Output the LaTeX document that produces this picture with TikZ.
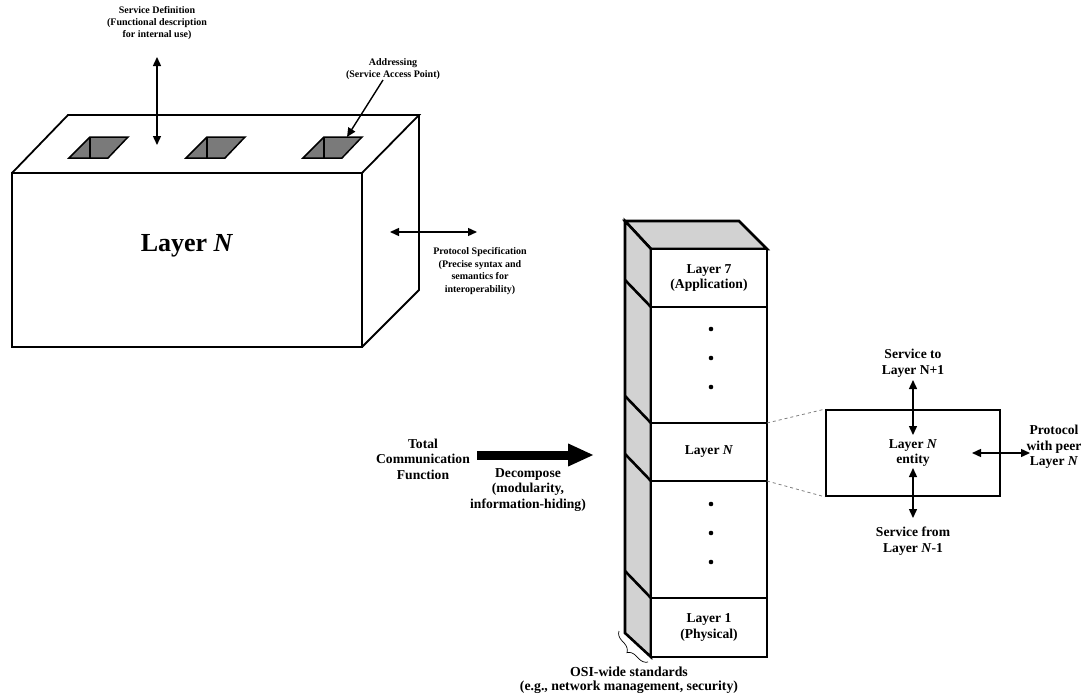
\documentclass[tikz,border=0pt]{standalone}
\usepackage{fontspec}
\setmainfont{Liberation Serif}
\usetikzlibrary{arrows.meta,positioning,decorations.pathreplacing}
\tikzset{
  boxedge/.style={draw=black, line width=1.8pt, line join=miter},
  slotbox/.style={draw=black, line width=1.5pt, fill=black!52, line join=miter},
  layerbox/.style={draw=black, line width=2.6pt, rectangle, minimum width=116pt, outer sep=0pt, inner sep=0pt, fill=white, align=center, font=\bfseries\fontsize{13.6}{15.5}\selectfont},
  sideface/.style={draw=black, line width=2.6pt, fill=gray!35, line join=miter},
  twoway/.style={<->, line width=1.4pt, >={Triangle[length=9pt,width=8pt]}},
  oneway/.style={->, line width=1.4pt, >={Triangle[length=9pt,width=8pt]}},
  fatarrow/.style={->, line width=9pt, >={Triangle[length=26pt,width=21pt]}},
  smalllabel/.style={align=center, inner sep=0pt, font=\bfseries\fontsize{10}{12}\selectfont},
  biglabel/.style={align=center, inner sep=0pt, font=\bfseries\fontsize{13.6}{15.5}\selectfont},
  zoomline/.style={draw=gray, dashed, line width=0.8pt}
}

\begin{document}
\begin{tikzpicture}[x=1pt, y=-1pt]
  \useasboundingbox (0,0) rectangle (1088,696);

  % layer N block
  \draw[boxedge] (12,173) rectangle (362,347);
  \draw[boxedge] (12,173) -- (68,115) -- (419,115) -- (362,173);
  \draw[boxedge] (419,115) -- (419,290) -- (362,347);
  \foreach \dx in {0,117,234} {
    \draw[slotbox, shift={(\dx,0)}] (69,158) -- (90,137) -- (128,137) -- (108,158) -- cycle;
    \draw[line width=1.5pt, shift={(\dx,0)}] (90,137) -- (90,158);
  }
  \node[font=\bfseries\fontsize{26}{30}\selectfont] (layern) at (187,246) {Layer \textit{N}};

  \node[smalllabel] (servdef) at (157,23) {Service Definition\\(Functional description\\for internal use)};
  \coordinate (sdtop) at (157,57);
  \coordinate (sdbot) at (157,145);
  \draw[twoway] (sdtop) -- (sdbot);

  \node[smalllabel] (addr) at (393,69) {Addressing\\(Service Access Point)};
  \coordinate (addrstart) at (383,80);
  \coordinate (sap) at (347,137);
  \draw[oneway] (addrstart) -- (sap);

  \coordinate (psleft) at (390,232);
  \coordinate (psright) at (477,232);
  \draw[twoway] (psleft) -- (psright);
  \node[smalllabel, font=\bfseries\fontsize{10}{12.7}\selectfont] (protspec) at (480,271) {Protocol Specification\\(Precise syntax and\\semantics for\\interoperability)};

  % OSI stack
  \draw[sideface] (625,221) -- (739,221) -- (767,249) -- (651,249) -- cycle;
  \draw[sideface] (625,221) -- (651,249) -- (651,657) -- (625,633) -- cycle;
  \node[layerbox, minimum height=58pt] (l7) at (709,278) {Layer 7\\(Application)};
  \node[layerbox, minimum height=116pt, below=0pt of l7] (upper) {};
  \node[layerbox, minimum height=58pt, below=0pt of upper] (ln) {Layer \textit{N}};
  \node[layerbox, minimum height=117pt, below=0pt of ln] (lower) {};
  \node[layerbox, minimum height=59pt, below=0pt of lower] (l1) {Layer 1\\(Physical)};
  \foreach \y in {307,423,481,598}
    \draw[line width=2.6pt] (625,\y-27) -- (651,\y);
  \foreach \y in {329,358,387,504,533,562}
    \fill (711,\y) circle (2.3pt);
  \draw[line width=0.7pt, decorate, decoration={brace, amplitude=9pt}] (648,662) -- (619,631);
  \node[biglabel, font=\bfseries\fontsize{13.8}{14.5}\selectfont] (osiwide) at (629,680) {OSI-wide standards\\(e.g., network management, security)};

  % decompose
  \node[biglabel] (total) at (423,459) {Total\\Communication\\Function};
  \coordinate (fatstart) at (477,455);
  \coordinate (fatend) at (594,455);
  \draw[fatarrow] (fatstart) -- (fatend);
  \node[biglabel] (decomp) at (528,490) {Decompose\\(modularity,\\information-hiding)};

  % layer N entity
  \node[draw=black, line width=1.8pt, minimum width=174pt, minimum height=86pt, align=center, font=\bfseries\fontsize{13.6}{15}\selectfont] (entity) at (913,453) {Layer \textit{N}\\entity};
  \draw[zoomline] (ln.north east) -- (entity.north west);
  \draw[zoomline] (ln.south east) -- (entity.south west);

  \node[biglabel] (svcup) at (913,363) {Service to\\Layer N+1};
  \coordinate (uptop) at (913,380);
  \coordinate (upbot) at (913,435);
  \draw[twoway] (uptop) -- (upbot);

  \node[biglabel] (svcdown) at (913,541) {Service from\\Layer \textit{N}-1};
  \coordinate (downtop) at (913,468);
  \coordinate (downbot) at (913,518);
  \draw[twoway] (downtop) -- (downbot);

  \node[biglabel] (peer) at (1054,447) {Protocol\\with peer\\Layer \textit{N}};
  \coordinate (peerleft) at (972,453);
  \coordinate (peerright) at (1030,453);
  \draw[twoway] (peerleft) -- (peerright);
\end{tikzpicture}
\end{document}
